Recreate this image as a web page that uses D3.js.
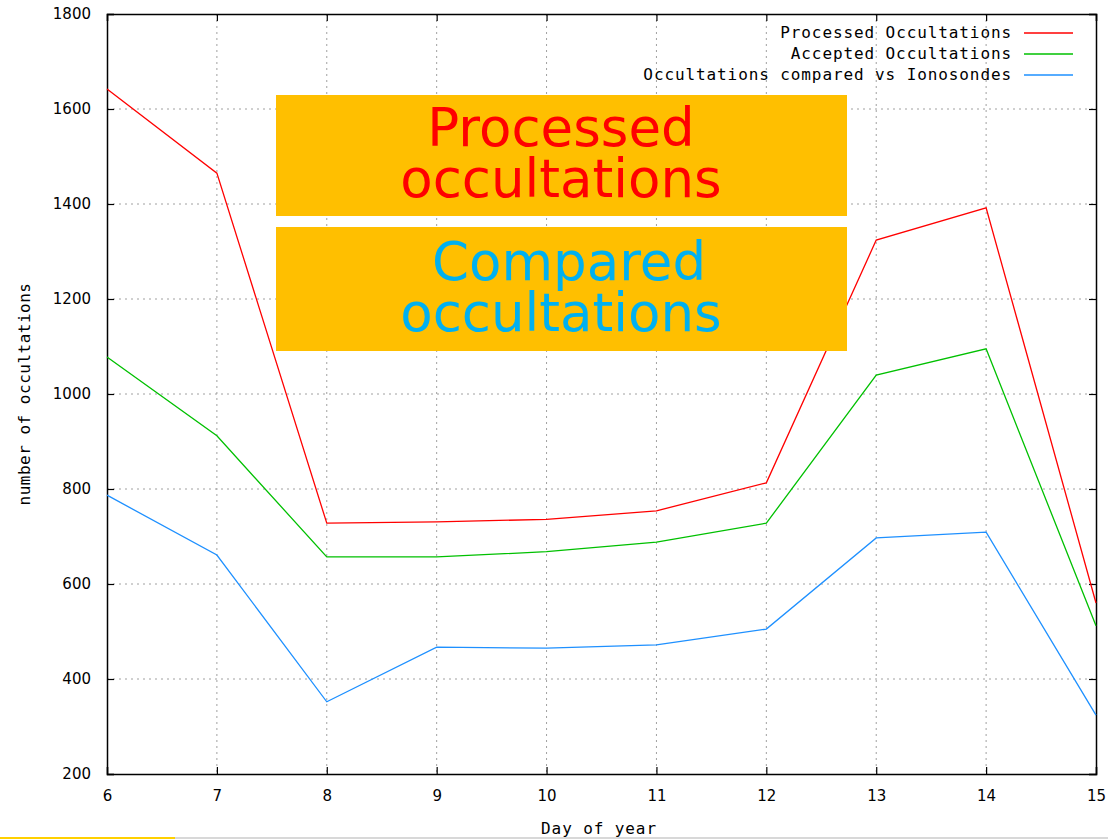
<!DOCTYPE html>
<html>
<head>
<meta charset="utf-8">
<script src="https://cdn.jsdelivr.net/npm/d3@7"></script>
<style>
  body { margin: 0; background: #fff; }
</style>
</head>
<body>
<div id="chart"></div>
<script>
// chart data
const days = [6, 7, 8, 9, 10, 11, 12, 13, 14, 15];
const processed = [1642, 1465, 728, 731, 736, 754, 813, 1324, 1392, 560];
const accepted = [1078, 912, 657, 657, 668, 688, 728, 1040, 1095, 512];
const compared = [787, 661, 352, 467, 465, 472, 505, 697, 709, 324];
const seriesNames = ["Processed Occultations", "Accepted Occultations", "Occultations compared vs Ionosondes"];
const seriesColors = ["#ff0000", "#00c000", "#1e90ff"];
const yTicks = [200, 400, 600, 800, 1000, 1200, 1400, 1600, 1800];
const boxLines = [["Processed", "occultations"], ["Compared", "occultations"]];
const boxColors = ["#ff0000", "#00b0f0"];

const width = 1108, height = 839;
const margin = {top: 14, right: 12, bottom: 65, left: 107};
const innerW = width - margin.left - margin.right;
const innerH = height - margin.top - margin.bottom;
const mono = "DejaVu Sans Mono, monospace";
const sans = "DejaVu Sans, sans-serif";

let svg = d3.select("#chart").append("svg")
    .attr("width", width)
    .attr("height", height);

let g = svg.append("g")
    .attr("transform", `translate(${margin.left}, ${margin.top})`);

let x = d3.scaleLinear().domain([6, 15]).range([0, innerW]);
let y = d3.scaleLinear().domain([200, 1800]).range([innerH, 0]);

// dotted grid
g.append("g").selectAll("line").data(days.slice(1, -1)).enter()
    .append("line")
    .attr("x1", d => x(d)).attr("x2", d => x(d))
    .attr("y1", 0).attr("y2", innerH)
    .attr("stroke", "#a0a0a0").attr("stroke-dasharray", "2,4");
g.append("g").selectAll("line").data(yTicks.slice(1, -1)).enter()
    .append("line")
    .attr("x1", 0).attr("x2", innerW)
    .attr("y1", d => y(d)).attr("y2", d => y(d))
    .attr("stroke", "#a0a0a0").attr("stroke-dasharray", "2,4");

// axes, ticks pointing inward like gnuplot
let xAxis = g.append("g").attr("transform", `translate(0, ${innerH})`)
    .call(d3.axisBottom(x).tickValues(days).tickSize(-7).tickPadding(16).tickFormat(d3.format("d")));
let xTop = g.append("g")
    .call(d3.axisTop(x).tickValues(days).tickSize(-7).tickFormat(""));
let yAxis = g.append("g")
    .call(d3.axisLeft(y).tickValues(yTicks).tickSize(-7).tickPadding(16).tickFormat(d3.format("d")));
let yRight = g.append("g").attr("transform", `translate(${innerW}, 0)`)
    .call(d3.axisRight(y).tickValues(yTicks).tickSize(-7).tickFormat(""));

[xAxis, xTop, yAxis, yRight].forEach(a => {
    a.select(".domain").attr("stroke", "#000").attr("stroke-width", 1.5);
    a.selectAll(".tick line").attr("stroke", "#000").attr("stroke-width", 1.2);
    a.selectAll("text").style("font-family", sans)
        .attr("font-size", 15).attr("fill", "#000");
});

// lines
let line = d3.line().x((d, i) => x(days[i])).y(d => y(d));
[processed, accepted, compared].forEach((s, i) => {
    g.append("path")
        .datum(s)
        .attr("d", line)
        .attr("fill", "none")
        .attr("stroke", seriesColors[i])
        .attr("stroke-width", 1.3);
});

// legend
let legend = g.append("g");
seriesNames.forEach((name, i) => {
    let ly = 19 + i * 21;
    legend.append("text")
        .attr("x", 905).attr("y", ly)
        .attr("text-anchor", "end")
        .attr("dominant-baseline", "middle")
        .style("font-family", mono)
        .style("letter-spacing", "0.9px")
        .attr("font-size", 16)
        .text(name);
    legend.append("line")
        .attr("x1", 917).attr("x2", 966)
        .attr("y1", ly).attr("y2", ly)
        .attr("stroke", seriesColors[i]).attr("stroke-width", 1.5);
});

// axis labels
svg.append("text")
    .attr("x", 599).attr("y", 834)
    .attr("text-anchor", "middle")
    .style("font-family", mono)
    .style("letter-spacing", "0.9px")
    .attr("font-size", 16)
    .text("Day of year");
svg.append("text")
    .attr("transform", "translate(30, 394) rotate(-90)")
    .attr("text-anchor", "middle")
    .style("font-family", mono)
    .style("letter-spacing", "0.5px")
    .attr("font-size", 16)
    .text("number of occultations");

// orange overlay boxes
let boxTop = [95, 227];
let firstBase = [51, 53];
let lineShift = [[0, 0], [8, 0]];
boxLines.forEach((lines, i) => {
    svg.append("rect")
        .attr("x", 276).attr("y", boxTop[i])
        .attr("width", 571).attr("height", i == 0 ? 121 : 124)
        .attr("fill", "#ffbf00");
    let t = svg.append("text")
        .attr("text-anchor", "middle")
        .style("font-family", sans)
        .attr("font-size", 53)
        .attr("fill", boxColors[i]);
    lines.forEach((s, j) => {
        t.append("tspan")
            .attr("x", 561 + lineShift[i][j])
            .attr("y", boxTop[i] + firstBase[i] + j * 51)
            .text(s);
    });
});

// thin strip at the very bottom edge
svg.append("rect").attr("x", 0).attr("y", 837).attr("width", width).attr("height", 2).attr("fill", "#d8d8d8");
svg.append("rect").attr("x", 0).attr("y", 837).attr("width", 175).attr("height", 2).attr("fill", "#ffd000");
</script>
</body>
</html>
